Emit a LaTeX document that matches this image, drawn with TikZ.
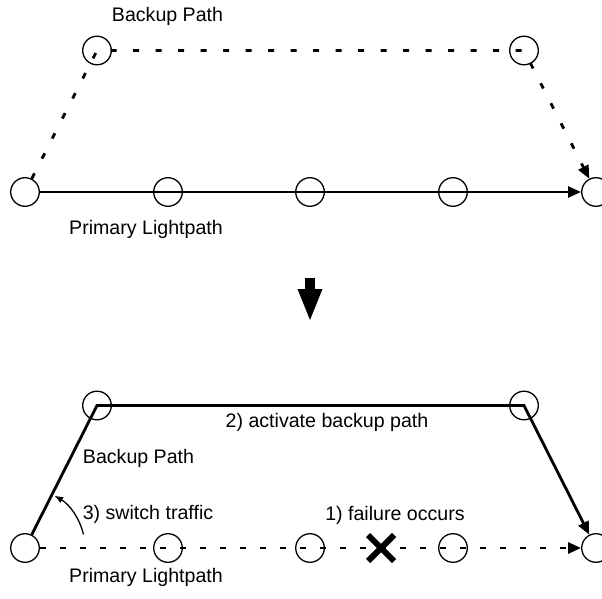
\documentclass[tikz,border=0pt]{standalone}
\usepackage{fontspec}
\setmainfont{Liberation Sans}
\usetikzlibrary{arrows.meta}
\tikzset{
  nd/.style={circle, draw, line width=1.3pt, minimum size=28.6pt, inner sep=0pt},
  main/.style={line width=2.8pt},
  tip/.style={-{Triangle[length=13pt,width=11pt]}},
  bkdash/.style={dash pattern=on 6pt off 16.5pt},
  prdash/.style={dash pattern=on 6pt off 14pt},
  lbl/.style={anchor=base, inner sep=0pt, font=\fontsize{19.6}{23}\selectfont},
}
\begin{document}
\begin{tikzpicture}[x=1pt, y=1pt]
\useasboundingbox (0,0) rectangle (602,598);
\clip (0,0) rectangle (602,598);

% ---------- before the failure ----------
\node[nd] (t1) at (25,406) {};
\node[nd] (t2) at (168,406) {};
\node[nd] (t3) at (310,406) {};
\node[nd] (t4) at (453,406) {};
\node[nd] (t5) at (596,406) {};
\node[nd] (ta) at (97,547.5) {};
\node[nd] (tb) at (524,547.5) {};

\draw[main, tip] (t1) -- (t5);
\draw[main, bkdash, tip] (t1) -- (ta.center) -- (tb.center) -- (t5);

\node[lbl] (tbl) at (167.5,576) {Backup Path};
\node[lbl] (tpl) at (146,363) {Primary Lightpath};

% ---------- transition arrow ----------
\coordinate (down) at (310,278);
\fill ([shift={(-5,31)}]down) rectangle ([shift={(5,42)}]down);
\fill (down) -- ([shift={(-12.5,31)}]down) -- ([shift={(12.5,31)}]down) -- cycle;

% ---------- after the failure ----------
\node[nd] (b1) at (25,50) {};
\node[nd] (b2) at (168,50) {};
\node[nd] (b3) at (310,50) {};
\node[nd] (b4) at (453,50) {};
\node[nd] (b5) at (596,50) {};
\node[nd] (ba) at (97,192.5) {};
\node[nd] (bb) at (524,192.5) {};

\draw[main, prdash, tip] (b1) -- (b5);
\draw[main, tip] (b1) -- (ba.center) -- (bb.center) -- (b5);

% failure mark
\coordinate (fail) at (381,50);
\draw[line width=6pt] ([shift={(-13,-13)}]fail) -- ([shift={(13,13)}]fail);
\draw[line width=6pt] ([shift={(-13,13)}]fail) -- ([shift={(13,-13)}]fail);

% traffic switch arrow
\draw[line width=1.3pt, -{Triangle[length=8pt,width=6pt]}]
  ([shift={(13:60)}]b1.center) arc[start angle=13, end angle=60, radius=60];

\node[lbl] (bbl) at (138.5,135) {Backup Path};
\node[lbl] (act) at (327,171) {2) activate backup path};
\node[lbl] (sw) at (148,79) {3) switch traffic};
\node[lbl] (fo) at (395,78) {1) failure occurs};
\node[lbl] (bpl) at (146,16) {Primary Lightpath};
\end{tikzpicture}
\end{document}
